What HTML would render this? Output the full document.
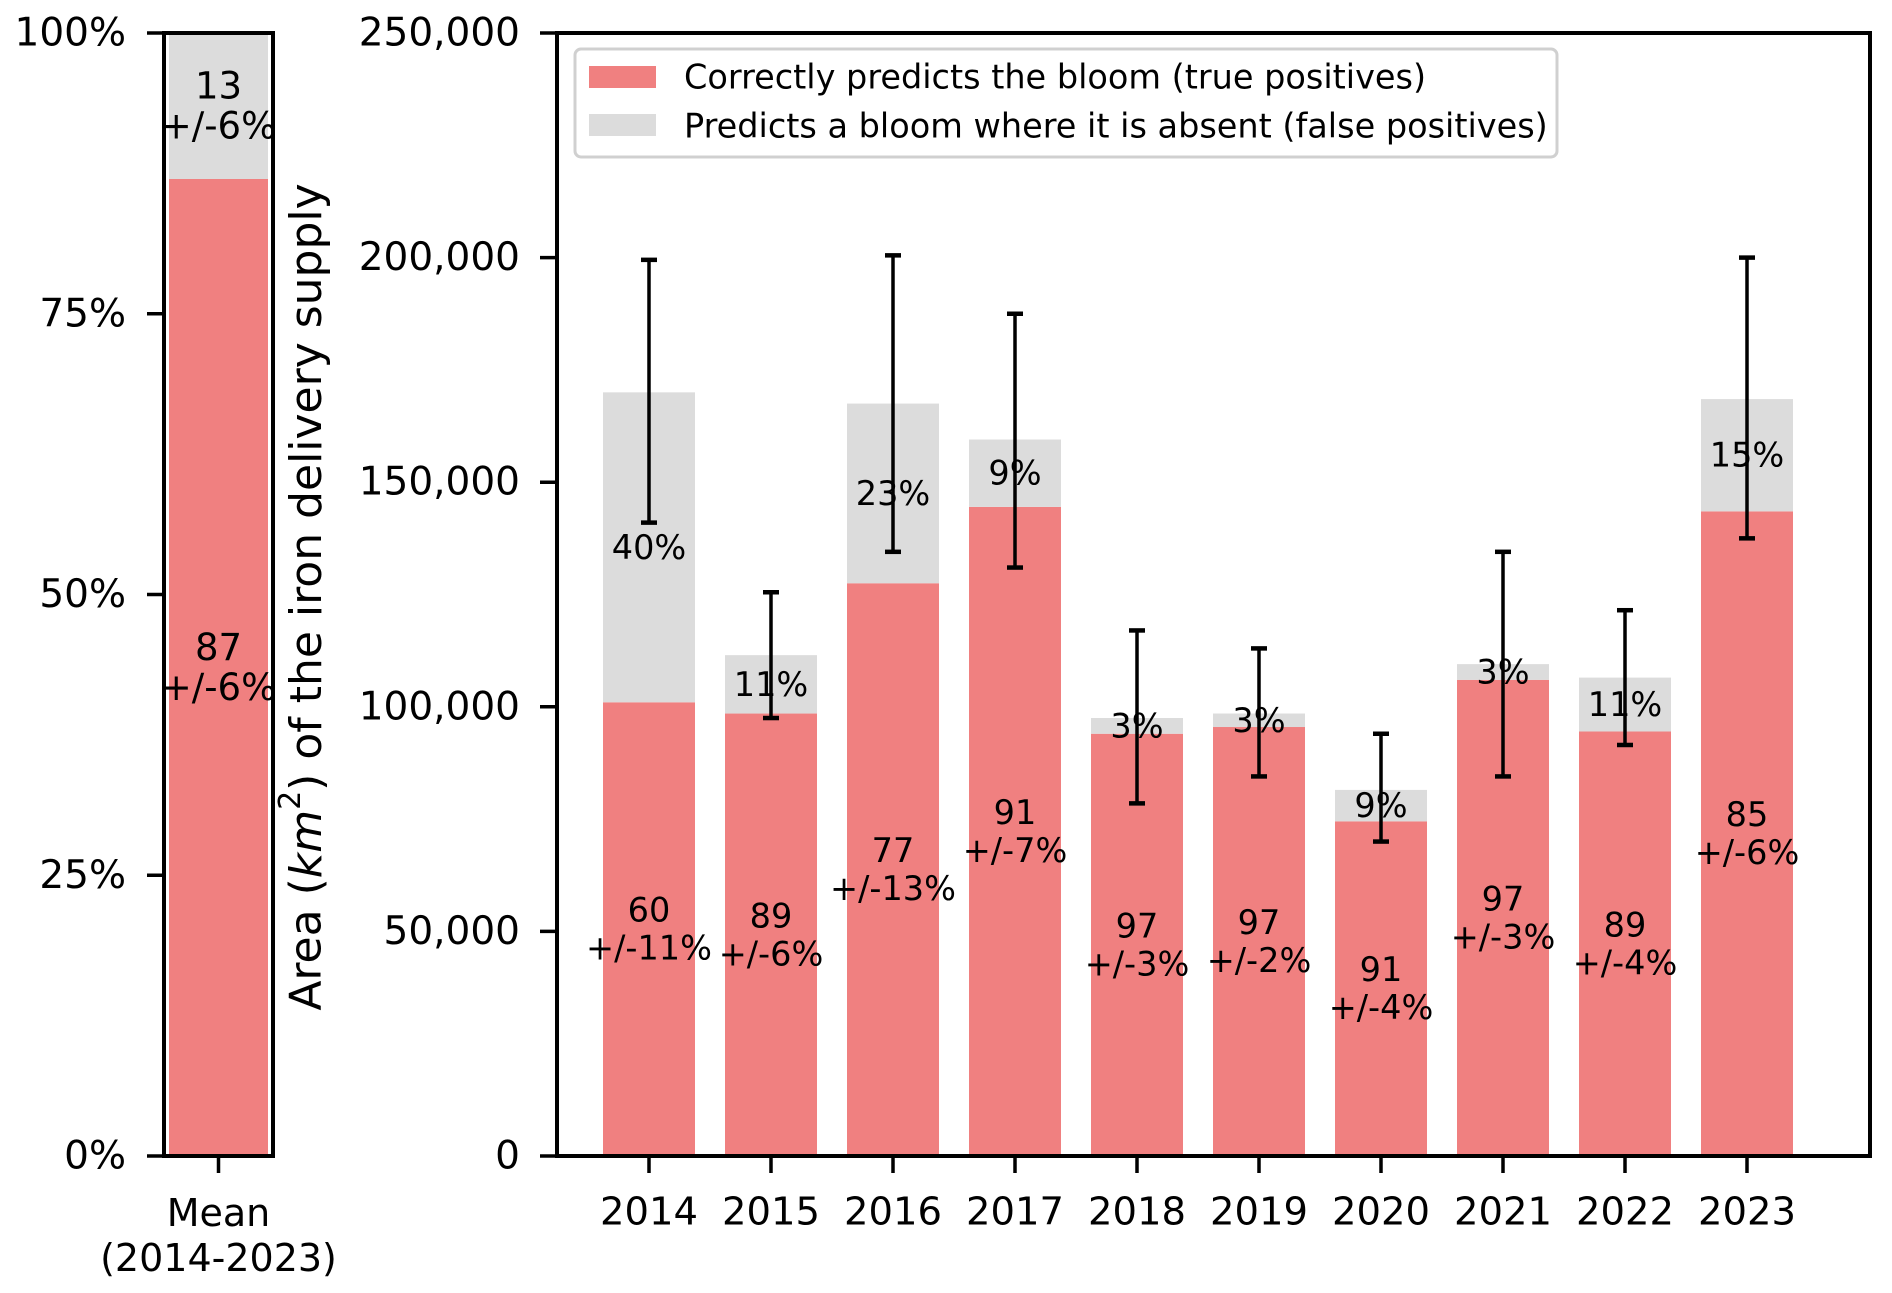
<!DOCTYPE html>
<html><head><meta charset="utf-8"><style>
body{margin:0;background:#fff}
svg{display:block;font-family:"DejaVu Sans","Liberation Sans",sans-serif}
</style></head><body>
<svg id="chart" width="1892" height="1293" viewBox="0 0 1892 1293" xmlns="http://www.w3.org/2000/svg"></svg>
<script>
const years=["2014","2015","2016","2017","2018","2019","2020","2021","2022","2023"];
const truePos=[101000,98500,127500,144500,94000,95500,74500,106000,94500,143500];
const totals=[170000,111500,167500,159500,97500,98500,81500,109500,106500,168500];
const errLow=[141000,97500,134500,131000,78500,84500,70000,84500,91500,137500];
const errHigh=[199500,125500,200500,187500,117000,113000,94000,134500,121500,200000];
const tpLabels=["60","89","77","91","97","97","91","97","89","85"];
const tpErr=["+/-11%","+/-6%","+/-13%","+/-7%","+/-3%","+/-2%","+/-4%","+/-3%","+/-4%","+/-6%"];
const fpLabels=["40%","11%","23%","9%","3%","3%","9%","3%","11%","15%"];
const yTicks=[0,50000,100000,150000,200000,250000];
const pctTicks=[0,25,50,75,100];
const meanTP=87, meanTPerr="+/-6%", meanFP=13, meanFPerr="+/-6%";

const NS="http://www.w3.org/2000/svg";
const svg=document.getElementById('chart');
function el(tag,attrs,parent){const e=document.createElementNS(NS,tag);for(const k in attrs)e.setAttribute(k,attrs[k]);(parent||svg).appendChild(e);return e;}
const RED="#f08080",GREY="#dcdcdc";
const L=557,R=1870,T=33,B=1156;
const y=v=>B-(v/250000)*(B-T);
const step=122, x0=649, bw=92;
const x=i=>x0+i*step;
const LL=164,LR=273;
const yp=p=>B-(p/100)*(B-T);

let r=el('rect',{x:169,y:yp(meanTP),width:99,height:B-yp(meanTP),fill:RED});

r=el('rect',{x:169,y:yp(100),width:99,height:yp(meanTP)-yp(100),fill:GREY});

function txt(s,xx,yy,size,attrs,name){const t=el('text',Object.assign({x:xx,y:yy,'font-size':size,'text-anchor':'middle','dominant-baseline':'central',fill:'#000'},attrs||{}));t.textContent=s;return t;}
const midL=(LL+LR)/2;
txt(String(meanFP),midL,(yp(100)+yp(meanTP))/2-20,37,{},'mean-fp-label');
txt(meanFPerr,midL,(yp(100)+yp(meanTP))/2+20,37,{},'mean-fp-error');
txt(String(meanTP),midL,yp(meanTP/2)-20,37,{},'mean-tp-label');
txt(meanTPerr,midL,yp(meanTP/2)+20,37,{},'mean-tp-error');
let f=el('rect',{x:LL,y:T,width:LR-LL,height:B-T,fill:'none',stroke:'#000','stroke-width':4});

pctTicks.forEach(p=>{
  const l=el('line',{x1:LL-17,x2:LL,y1:yp(p),y2:yp(p),stroke:'#000','stroke-width':3.5});
  
  txt(p+"%",126,yp(p),39,{'text-anchor':'end'},'pct-tick-label');
});
let tl=el('line',{x1:midL,x2:midL,y1:B,y2:B+17,stroke:'#000','stroke-width':3.5});

txt("Mean",midL,1213,38,{},'mean-x-label');
txt("(2014-2023)",midL,1258,38,{},'mean-x-label-range');

years.forEach((yr,i)=>{
  const cx=x(i);
  let b=el('rect',{x:cx-bw/2,y:y(truePos[i]),width:bw,height:B-y(truePos[i]),fill:RED});
  
  b=el('rect',{x:cx-bw/2,y:y(totals[i]),width:bw,height:y(truePos[i])-y(totals[i]),fill:GREY});
  
  txt(fpLabels[i],cx,y((truePos[i]+totals[i])/2),33.5,{},'fp-label-'+yr);
  txt(tpLabels[i],cx,y(truePos[i]/2)-19,33.5,{},'tp-label-'+yr);
  txt(tpErr[i],cx,y(truePos[i]/2)+19,33.5,{},'tp-error-label-'+yr);
  const g=el('g',{stroke:'#000','stroke-width':3.5});
  
  el('line',{x1:cx,x2:cx,y1:y(errLow[i]),y2:y(errHigh[i])},g);
  el('line',{x1:cx-8,x2:cx+8,y1:y(errLow[i]),y2:y(errLow[i]),'stroke-width':4.5},g);
  el('line',{x1:cx-8,x2:cx+8,y1:y(errHigh[i]),y2:y(errHigh[i]),'stroke-width':4.5},g);
  const t=el('line',{x1:cx,x2:cx,y1:B,y2:B+17,stroke:'#000','stroke-width':3.5});
  
  txt(yr,cx,1212,38.5,{},'x-tick-label-'+yr);
});
f=el('rect',{x:L,y:T,width:R-L,height:B-T,fill:'none',stroke:'#000','stroke-width':4});

yTicks.forEach(v=>{
  const l=el('line',{x1:L-17,x2:L,y1:y(v),y2:y(v),stroke:'#000','stroke-width':3.5});
  
  txt(v.toLocaleString('en-US'),520,y(v),39,{'text-anchor':'end'},'y-tick-label');
});
const yt=el('text',{x:0,y:0,'font-size':44,'text-anchor':'middle','dominant-baseline':'central',transform:'translate(306,597) rotate(-90)'});

yt.innerHTML='Area (<tspan font-style="italic">km</tspan><tspan font-size="30" dy="-16">2</tspan><tspan dy="16">) of the iron delivery supply</tspan>';
const lg=el('g',{});

el('rect',{x:575,y:49,width:982,height:108,rx:6,fill:'#fff','fill-opacity':0.8,stroke:'#d0d0d0','stroke-width':3},lg);
let s=el('rect',{x:589,y:66,width:67,height:22,fill:RED},lg);

s=el('rect',{x:589,y:114,width:67,height:22,fill:GREY},lg);

txt("Correctly predicts the bloom (true positives)",684,77,33.5,{'text-anchor':'start'},'legend-entry-true-positives');
txt("Predicts a bloom where it is absent (false positives)",684,126,33.5,{'text-anchor':'start'},'legend-entry-false-positives');
</script>
</body></html>
